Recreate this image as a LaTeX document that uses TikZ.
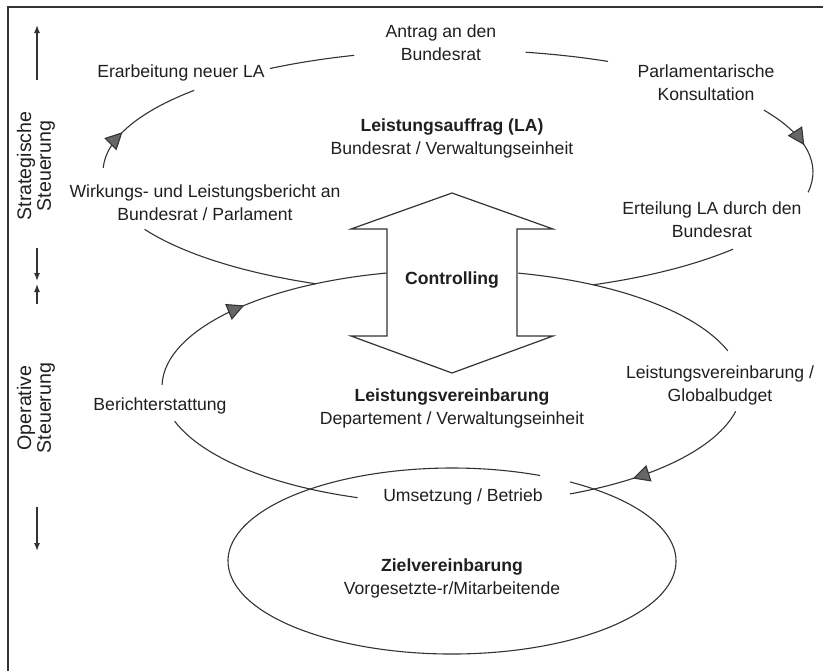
\documentclass[tikz,border=0pt]{standalone}
\usepackage{fontspec}
\setmainfont{Liberation Sans}
\usepackage{tikz}
\usetikzlibrary{arrows.meta,decorations.markings}
\definecolor{myink}{rgb}{0.12,0.12,0.12}
\definecolor{myline}{rgb}{0.2,0.2,0.2}
\definecolor{mytip}{rgb}{0.4,0.4,0.4}

\begin{document}
\begin{tikzpicture}[x=0.5pt,y=-0.5pt,>={Latex[length=4pt,width=3pt]},
  lbl/.style={font=\fontsize{8.8}{11.5}\selectfont,text=myink,align=center,inner sep=0pt},
  side/.style={font=\fontsize{9.8}{8.3}\selectfont,text=myink,align=center,inner sep=0pt,rotate=90},
  cyc/.style={draw=myline,line width=0.55pt},
  tipat/.style={postaction={decorate},decoration={markings,
      mark=at position #1 with {\arrow{Triangle[length=8.5pt,width=8.5pt,fill=mytip]}}}}]
  \useasboundingbox (0,0) rectangle (823,671);
  % frame (top and left edge only)
  \draw[myline,line width=0.9pt] (823,7) -- (8,7) -- (8,671);
  % level arrows on the left
  \coordinate (s0) at (37,80);  \coordinate (s1) at (37,25);
  \coordinate (m0) at (37,248); \coordinate (m1) at (37,281);
  \coordinate (m2) at (37,304); \coordinate (m3) at (37,284);
  \coordinate (o0) at (37,507); \coordinate (o1) at (37,551);
  \draw[myline,line width=0.6pt,->] (s0) -- (s1);
  \draw[myline,line width=0.6pt,->] (m0) -- (m1);
  \draw[myline,line width=0.6pt,->] (m2) -- (m3);
  \draw[myline,line width=0.6pt,->] (o0) -- (o1);
  \node[side] (strat) at (36,166) {Strategische\\Steuerung};
  \node[side] (oper)  at (36,408) {Operative\\Steuerung};
  % strategic cycle
  \begin{scope}[shift={(458,172)}]
    \draw[cyc] (238:355 and 122) arc[start angle=238,end angle=253,x radius=355,y radius=122];
    \draw[cyc] (281:355 and 122) arc[start angle=281,end angle=295,x radius=355,y radius=122];
    \draw[cyc,tipat=0.52] (329.5:355 and 122) arc[start angle=329.5,end angle=369.6,x radius=355,y radius=122];
    \draw[cyc] (39.2:355 and 122) arc[start angle=39.2,end angle=67.6,x radius=355,y radius=122];
    \draw[cyc] (113.6:355 and 122) arc[start angle=113.6,end angle=152,x radius=355,y radius=122];
    \draw[cyc,tipat=0.33] (182:355 and 122) arc[start angle=182,end angle=222,x radius=355,y radius=122];
  \end{scope}
  % operative cycle
  \begin{scope}[shift={(452,387)}]
    \draw[cyc] (283.2:290 and 117) arc[start angle=283.2,end angle=342,x radius=290,y radius=117];
    \draw[cyc,tipat=0.66] (12:290 and 117) arc[start angle=12,end angle=66,x radius=290,y radius=117];
    \draw[cyc] (109:290 and 117) arc[start angle=109,end angle=163,x radius=290,y radius=117];
    \draw[cyc,tipat=0.45] (181:290 and 117) arc[start angle=181,end angle=257,x radius=290,y radius=117];
  \end{scope}
  % target agreement
  \begin{scope}[shift={(452,561)}]
    \draw[cyc] (301.8:224 and 93) arc[start angle=301.8,end angle=653.1,x radius=224,y radius=93];
  \end{scope}
  % controlling double arrow
  \draw[myline,line width=0.6pt,fill=white] (452,193) -- (553,229) -- (517,229) -- (517,336)
    -- (553,336) -- (452,373) -- (351,336) -- (387,336) -- (387,229) -- (351,229) -- cycle;
  \node[lbl] (contr) at (452,280) {\textbf{Controlling}};
  % labels
  \node[lbl] (antrag) at (441,43) {Antrag an den\\Bundesrat};
  \node[lbl] (erarb) at (181,73) {Erarbeitung neuer LA};
  \node[lbl] (parl) at (706,83) {Parlamentarische\\Konsultation};
  \node[lbl] (lauftrag) at (452,138) {\textbf{Leistungsauffrag (LA)}\\Bundesrat / Verwaltungseinheit};
  \node[lbl] (wbericht) at (205,203) {Wirkungs- und Leistungsbericht an\\Bundesrat / Parlament};
  \node[lbl] (erteil) at (712,220) {Erteilung LA durch den\\Bundesrat};
  \node[lbl] (berstat) at (160,406) {Berichterstattung};
  \node[lbl] (lvdep) at (452,408) {\textbf{Leistungsvereinbarung}\\Departement / Verwaltungseinheit};
  \node[lbl] (lvglob) at (720,385) {Leistungsvereinbarung /\\Globalbudget};
  \node[lbl] (umsetz) at (463,497) {Umsetzung / Betrieb};
  \node[lbl] (zielv) at (452,578) {\textbf{Zielvereinbarung}\\Vorgesetzte-r/Mitarbeitende};
\end{tikzpicture}
\end{document}
